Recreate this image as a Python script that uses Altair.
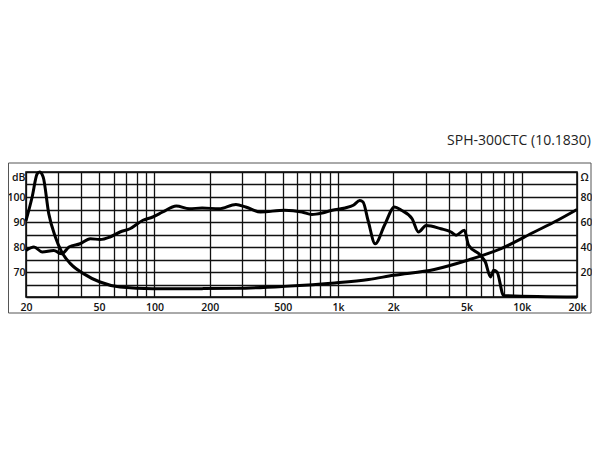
import altair as alt
import pandas as pd

TITLE = "SPH-300CTC (10.1830)"

# SPL response (frequency Hz, dB)
spl_freq = [20, 22.1, 24.5, 28.3, 31.3, 34.3, 39.4, 44.8, 50.6, 57.3, 65, 73.6, 86.6, 98,
            111, 131.6, 155, 182, 225, 278, 314, 378, 512, 636, 720, 820, 929, 1093, 1211,
            1314, 1368, 1456, 1594, 1790, 2030, 2211, 2530, 2740, 3015, 3630, 4120, 4390,
            4870, 5140, 5960, 6340, 6760, 7040, 7340, 7970, 20000]
spl_db = [78.6, 80, 78, 78.6, 77.3, 80, 81.3, 83.3, 83, 84, 86, 87.3, 90.7, 92,
          94, 96.4, 95.3, 95.6, 95.3, 97, 96, 94, 94.7, 94, 93, 93.6, 94.7, 95.6, 96.7,
          98.6, 98, 90.7, 81.3, 88.7, 96, 94.7, 91.3, 86, 88.6, 87.3, 86, 84.7,
          86.7, 80.7, 76.7, 74, 68, 70.7, 70, 60.6, 60]

# Impedance (frequency Hz, ohm)
imp_freq = [20, 21.6, 23, 23.7, 24.8, 26.6, 28.9, 31.3, 34.9, 41.1, 50.6, 65, 98, 183,
            280, 512, 960, 1468, 2005, 3340, 5070, 7720, 11700, 15680, 20000]
imp_ohm = [61, 80, 98.5, 100, 96, 66.7, 48, 36, 26.7, 18.7, 12, 8, 6.7, 6.7,
           6.9, 8.5, 11.2, 14, 17.4, 22, 29.4, 38.7, 52, 61.4, 70]

x_labels = [20, 50, 100, 200, 500, 1000, 2000, 5000, 10000, 20000]
db_labels = [70, 80, 90, 100]
ohm_labels = [20, 40, 60, 80]

W, H = 551, 125
FONT = "Open Sans"
FS = 10.5
FW = 600

x_grid = [20, 30, 40, 50, 60, 70, 80, 90]
for d in [100, 1000]:
    x_grid += [d * k for k in range(1, 10)]
x_grid += [10000, 20000]

spl_df = pd.DataFrame({"f": spl_freq, "v": spl_db})
imp_df = pd.DataFrame({"f": imp_freq, "v": imp_ohm})

lab_arr = "[" + ",".join(str(v) for v in x_labels) + "]"
x_expr = (f"indexof({lab_arr}, datum.value) >= 0 ? "
          "(datum.value >= 1000 ? (datum.value/1000) + 'k' : '' + datum.value) : ''")
db_arr = "[" + ",".join(str(v) for v in db_labels) + "]"
db_expr = f"datum.value == 110 ? 'dB' : (indexof({db_arr}, datum.value) >= 0 ? '' + datum.value : '')"
ohm_arr = "[" + ",".join(str(v) for v in ohm_labels) + "]"
ohm_expr = f"datum.value == 100 ? 'Ω' : (indexof({ohm_arr}, datum.value) >= 0 ? '' + datum.value : '')"

xscale = alt.Scale(type="log", domain=[20, 20000], nice=False)
xaxis = alt.Axis(values=x_grid, labelExpr=x_expr, grid=True, ticks=False,
                 domain=False, title=None, labelPadding=5, gridColor="#111",
                 gridWidth=1.3, labelFont=FONT, labelFontSize=FS, labelFontWeight=FW,
                 labelColor="#111", labelFlush=False, labelOverlap=False)

spl = alt.Chart(spl_df).mark_line(color="black", strokeWidth=3, interpolate="monotone",
                                   strokeJoin="round").encode(
    x=alt.X("f:Q", scale=xscale, axis=xaxis),
    y=alt.Y("v:Q", scale=alt.Scale(domain=[60, 110], nice=False),
            axis=alt.Axis(values=list(range(60, 111, 5)), labelExpr=db_expr, grid=True,
                          ticks=False, domain=False, title=None, labelPadding=1,
                          gridColor="#111", gridWidth=1.3, labelFont=FONT,
                          labelFontSize=FS, labelFontWeight=FW, labelColor="#111",
                          labelFlush=False, labelOverlap=False,
                          labelBaseline=alt.condition("datum.value == 110",
                                                      alt.value("top"),
                                                      alt.value("middle")))),
)

imp = alt.Chart(imp_df).mark_line(color="black", strokeWidth=3, interpolate="monotone",
                                   strokeJoin="round").encode(
    x=alt.X("f:Q", scale=xscale, axis=xaxis),
    y=alt.Y("v:Q", scale=alt.Scale(domain=[0, 100], nice=False),
            axis=alt.Axis(orient="right", values=[0, 20, 40, 60, 80, 100],
                          labelExpr=ohm_expr, grid=False, ticks=False, domain=False,
                          title=None, labelPadding=3, labelFont=FONT, labelFontSize=FS,
                          labelFontWeight=FW, labelColor="#111", labelFlush=False,
                          labelOverlap=False,
                          labelBaseline=alt.condition("datum.value == 100",
                                                      alt.value("top"),
                                                      alt.value("middle")))),
)

frame = alt.Chart(pd.DataFrame({"a": [0]})).mark_rect(
    fill=None, stroke="#555", strokeWidth=1).encode(
    x=alt.value(-17.5), x2=alt.value(W + 14), y=alt.value(-9), y2=alt.value(141))

title = alt.Chart(pd.DataFrame({"t": [TITLE]})).mark_text(
    align="right", baseline="middle", font=FONT, fontSize=14, color="#222").encode(
    text="t:N", x=alt.value(W + 14), y=alt.value(-31))

chart = alt.layer(spl, imp, frame, title).resolve_scale(y="independent").properties(
    width=W, height=H,
    autosize=alt.AutoSizeParams(type="none"),
    padding={"left": 18, "top": 164, "right": 15, "bottom": 60},
).configure_view(stroke="black", strokeWidth=1.5)

chart.save("out.html", embed_options={"renderer": "svg", "actions": False})
